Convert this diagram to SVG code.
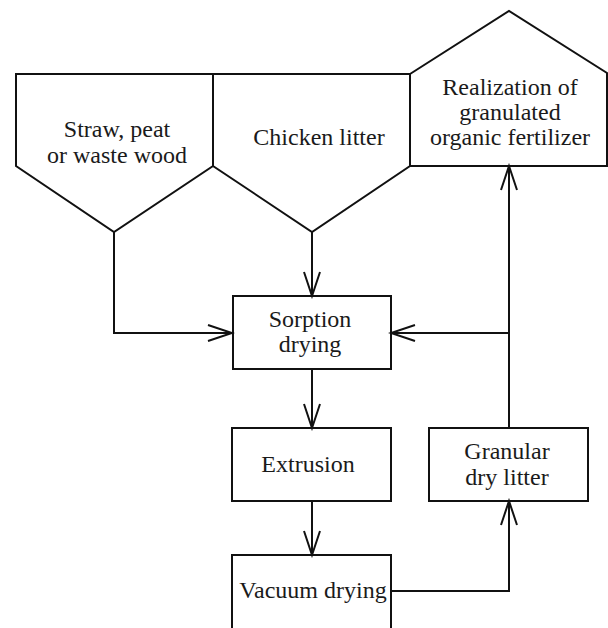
<svg xmlns="http://www.w3.org/2000/svg" width="608" height="628" viewBox="0 0 608 628">
<style>
.s{fill:#fff;stroke:#111;stroke-width:2;stroke-linejoin:miter}
.c{fill:none;stroke:#111;stroke-width:2}
.t{font-family:"Liberation Serif","Times New Roman",serif;font-size:24px;fill:#1a1a1a;text-anchor:middle}
</style>
<defs>
<marker id="ah" markerUnits="userSpaceOnUse" markerWidth="30" markerHeight="20" viewBox="-26 -10 28 20" refX="0" refY="0" orient="auto">
<path d="M-24,-8 L0,0 L-24,8" fill="none" stroke="#111" stroke-width="2"/>
</marker>
</defs>
<rect width="608" height="628" fill="#fff"/>
<g id="straw">
<path class="s" d="M16,74 L213,74 L213,166 L114,232 L16,166 Z"/>
<text class="t" x="117" y="137">Straw, peat</text>
<text class="t" x="117" y="163">or waste wood</text>
</g>
<g id="chicken">
<path class="s" d="M213,74 L410,74 L410,166 L312,232 L213,166 Z"/>
<text class="t" x="319" y="145">Chicken litter</text>
</g>
<g id="realization">
<path class="s" d="M410,74 L509,11 L607,73 L607,166 L410,166 Z"/>
<text class="t" x="510" y="95">Realization of</text>
<text class="t" x="510" y="120">granulated</text>
<text class="t" x="510" y="145">organic fertilizer</text>
</g>
<g id="sorption">
<rect class="s" x="233" y="296" width="158" height="73"/>
<text class="t" x="310" y="327">Sorption</text>
<text class="t" x="310" y="352">drying</text>
</g>
<g id="extrusion">
<rect class="s" x="232" y="428" width="159" height="73"/>
<text class="t" x="308" y="472">Extrusion</text>
</g>
<g id="vacuum">
<rect class="s" x="232" y="555" width="159" height="100"/>
<text class="t" x="313" y="598">Vacuum drying</text>
</g>
<g id="granular">
<rect class="s" x="429" y="428" width="159" height="73"/>
<text class="t" x="507" y="459">Granular</text>
<text class="t" x="507" y="485">dry litter</text>
</g>
<g id="connectors">
<polyline class="c" points="114,232 114,333 232,333" marker-end="url(#ah)"/>
<line class="c" x1="312" y1="232" x2="312" y2="296" marker-end="url(#ah)"/>
<line class="c" x1="509" y1="428" x2="509" y2="166" marker-end="url(#ah)"/>
<line class="c" x1="509" y1="333" x2="391" y2="333" marker-end="url(#ah)"/>
<line class="c" x1="312" y1="369" x2="312" y2="428" marker-end="url(#ah)"/>
<line class="c" x1="312" y1="501" x2="312" y2="555" marker-end="url(#ah)"/>
<polyline class="c" points="391,591 509,591 509,501" marker-end="url(#ah)"/>
</g>
</svg>
